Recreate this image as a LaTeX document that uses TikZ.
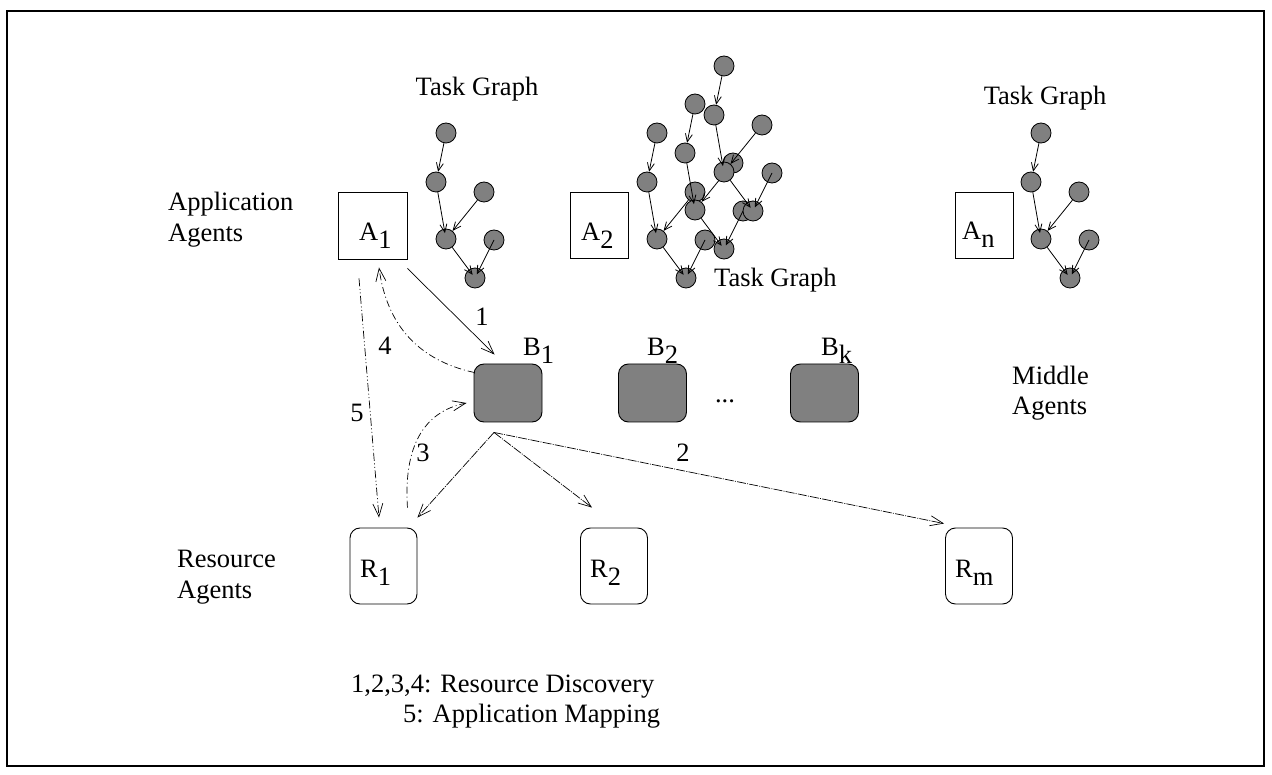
\documentclass[tikz,border=0pt]{standalone}
\usepackage{fontspec}
\setmainfont{Liberation Serif}
\usetikzlibrary{arrows.meta,calc}
\definecolor{fillgray}{RGB}{128,128,128}
\newcommand{\tgraph}[3]{%
  \begin{scope}[shift={(#2,#3)}]
    \node[tnode] (#1a) at (446,133) {};
    \node[tnode] (#1b) at (436,182) {};
    \node[tnode] (#1c) at (484,192) {};
    \node[tnode] (#1d) at (446,239) {};
    \node[tnode] (#1e) at (494,240) {};
    \node[tnode] (#1f) at (475,278) {};
    \draw[tgedge] (#1a) -- (#1b);
    \draw[tgedge, shorten >=6pt] (#1b) -- (#1d.center);
    \draw[tgedge] (#1c) -- (#1d);
    \draw[tgedge, shorten >=4pt] (#1d) -- (#1f.center);
    \draw[tgedge, shorten >=4pt] (#1e.center) -- (#1f.center);
  \end{scope}}
\begin{document}
\begin{tikzpicture}[x=1pt, y=-1pt,
  tnode/.style={circle, draw, fill=fillgray, minimum size=20pt, inner sep=0pt, line width=0.8pt},
  tgedge/.style={line width=0.8pt, -{Straight Barb[length=8pt,width=7pt]}},
  abox/.style={draw, line width=0.9pt, inner sep=0pt},
  bbox/.style={draw, line width=0.9pt, fill=fillgray, rounded corners=10pt, minimum width=68pt, minimum height=58pt, inner sep=0pt},
  rbox/.style={draw, line width=0.9pt, fill=white, rounded corners=10pt, minimum width=67pt, minimum height=76pt, inner sep=0pt},
  lbl/.style={font=\fontsize{26.5}{31}\selectfont, inner sep=0pt},
  conn/.style={line width=0.7pt, -{Straight Barb[length=13pt,width=10pt]}},
  conn2/.style={conn, dash pattern=on 9pt off 1.2pt on 1pt off 1.2pt},
  conn3/.style={conn, dash pattern=on 7pt off 3pt on 1pt off 3pt},
  conn5/.style={conn, dash pattern=on 8pt off 2.5pt on 1pt off 2.5pt on 1pt off 2.5pt}]
\useasboundingbox (0,0) rectangle (1272,775);
\draw[line width=2pt] (7,11) rectangle (1264,766);

% task graphs
\tgraph{g}{0}{0}
\tgraph{p}{211}{0}
\tgraph{q}{249}{-29}
\tgraph{s}{278}{-67}
\tgraph{t}{595}{0}

% application agents
\node[abox, minimum width=69pt, minimum height=67pt] (A1) at (372.5,225.5) {};
\node[abox, minimum width=58pt, minimum height=66pt] (A2) at (599,225) {};
\node[abox, minimum width=58pt, minimum height=66pt] (An) at (984,225) {};
\node[lbl, anchor=base west] (A1l) at (359,241) {A\raisebox{-8pt}{1}};
\node[lbl, anchor=base west] (A2l) at (581,241) {A\raisebox{-8pt}{2}};
\node[lbl, anchor=base west] (Anl) at (962,240) {A\raisebox{-8pt}{n}};

% middle agents
\node[bbox] (B1) at (508,393) {};
\node[bbox] (B2) at (652.5,393) {};
\node[bbox] (Bk) at (824.5,393) {};
\node[lbl, anchor=base west] (B1l) at (523,356) {B\raisebox{-8pt}{1}};
\node[lbl, anchor=base west] (B2l) at (647,356) {B\raisebox{-8pt}{2}};
\node[lbl, anchor=base west] (Bkl) at (821,356) {B\raisebox{-8pt}{k}};
\node[lbl, anchor=base] (dots) at (725,403) {...};

% resource agents
\node[rbox] (R1) at (383.5,566) {};
\node[rbox] (R2) at (614,566) {};
\node[rbox] (Rm) at (979,566) {};
\node[lbl, anchor=base west] (R1l) at (360,577) {R\raisebox{-8pt}{1}};
\node[lbl, anchor=base west] (R2l) at (590,577) {R\raisebox{-8pt}{2}};
\node[lbl, anchor=base west] (Rml) at (955,577) {R\raisebox{-8pt}{m}};

% side labels
\node[lbl, anchor=base west] (ap1) at (168,211) {Application};
\node[lbl, anchor=base west] (ap2) at (168,242) {Agents};
\node[lbl, anchor=base west] (mi1) at (1012,385) {Middle};
\node[lbl, anchor=base west] (mi2) at (1012,415) {Agents};
\node[lbl, anchor=base west] (re1) at (177,567) {Resource};
\node[lbl, anchor=base west] (re2) at (177,598) {Agents};
\node[lbl, anchor=base] (tg1) at (477,96) {Task Graph};
\node[lbl, anchor=base west] (tg2) at (714,287) {Task Graph};
\node[lbl, anchor=base] (tg3) at (1045,105) {Task Graph};

% connectors
\draw[conn] ($(A1.south east)+(0,9)$) -- ($(B1.north west)+(21,-9)$);
\coordinate (O) at ($(B1.south)+(-14,10)$);
\draw[conn2] (O) -- ($(R1.north east)+(0,-10)$);
\draw[conn2] (O) -- ($(R2.north)+(-22,-20)$);
\draw[conn2] (O) -- ($(Rm.north west)+(-1,-4)$);
\draw[conn3] ($(B1.north west)+(1,9)$) .. controls (418.7,360.5) and (386.7,325.2) .. ($(A1.south)+(6.5,8)$);
\draw[conn3] ($(R1.north east)+(-10,-20)$) .. controls (403.5,446.7) and (423.5,411.7) .. ($(B1.west)+(-7,10)$);
\draw[conn5] ($(A1.south)+(-13.5,19)$) -- ($(R1.north)+(-4.5,-10)$);

\node[lbl, anchor=base] (n1) at (482,326) {1};
\node[lbl, anchor=base] (n4) at (385,355) {4};
\node[lbl, anchor=base] (n5) at (357,422) {5};
\node[lbl, anchor=base] (n3) at (423,461) {3};
\node[lbl, anchor=base] (n2) at (683,461) {2};

% legend
\node[lbl, anchor=base west] (leg1) at (351,692) {1,2,3,4: Resource Discovery};
\node[lbl, anchor=base west] (leg2) at (403,722) {5: Application Mapping};
\end{tikzpicture}
\end{document}
